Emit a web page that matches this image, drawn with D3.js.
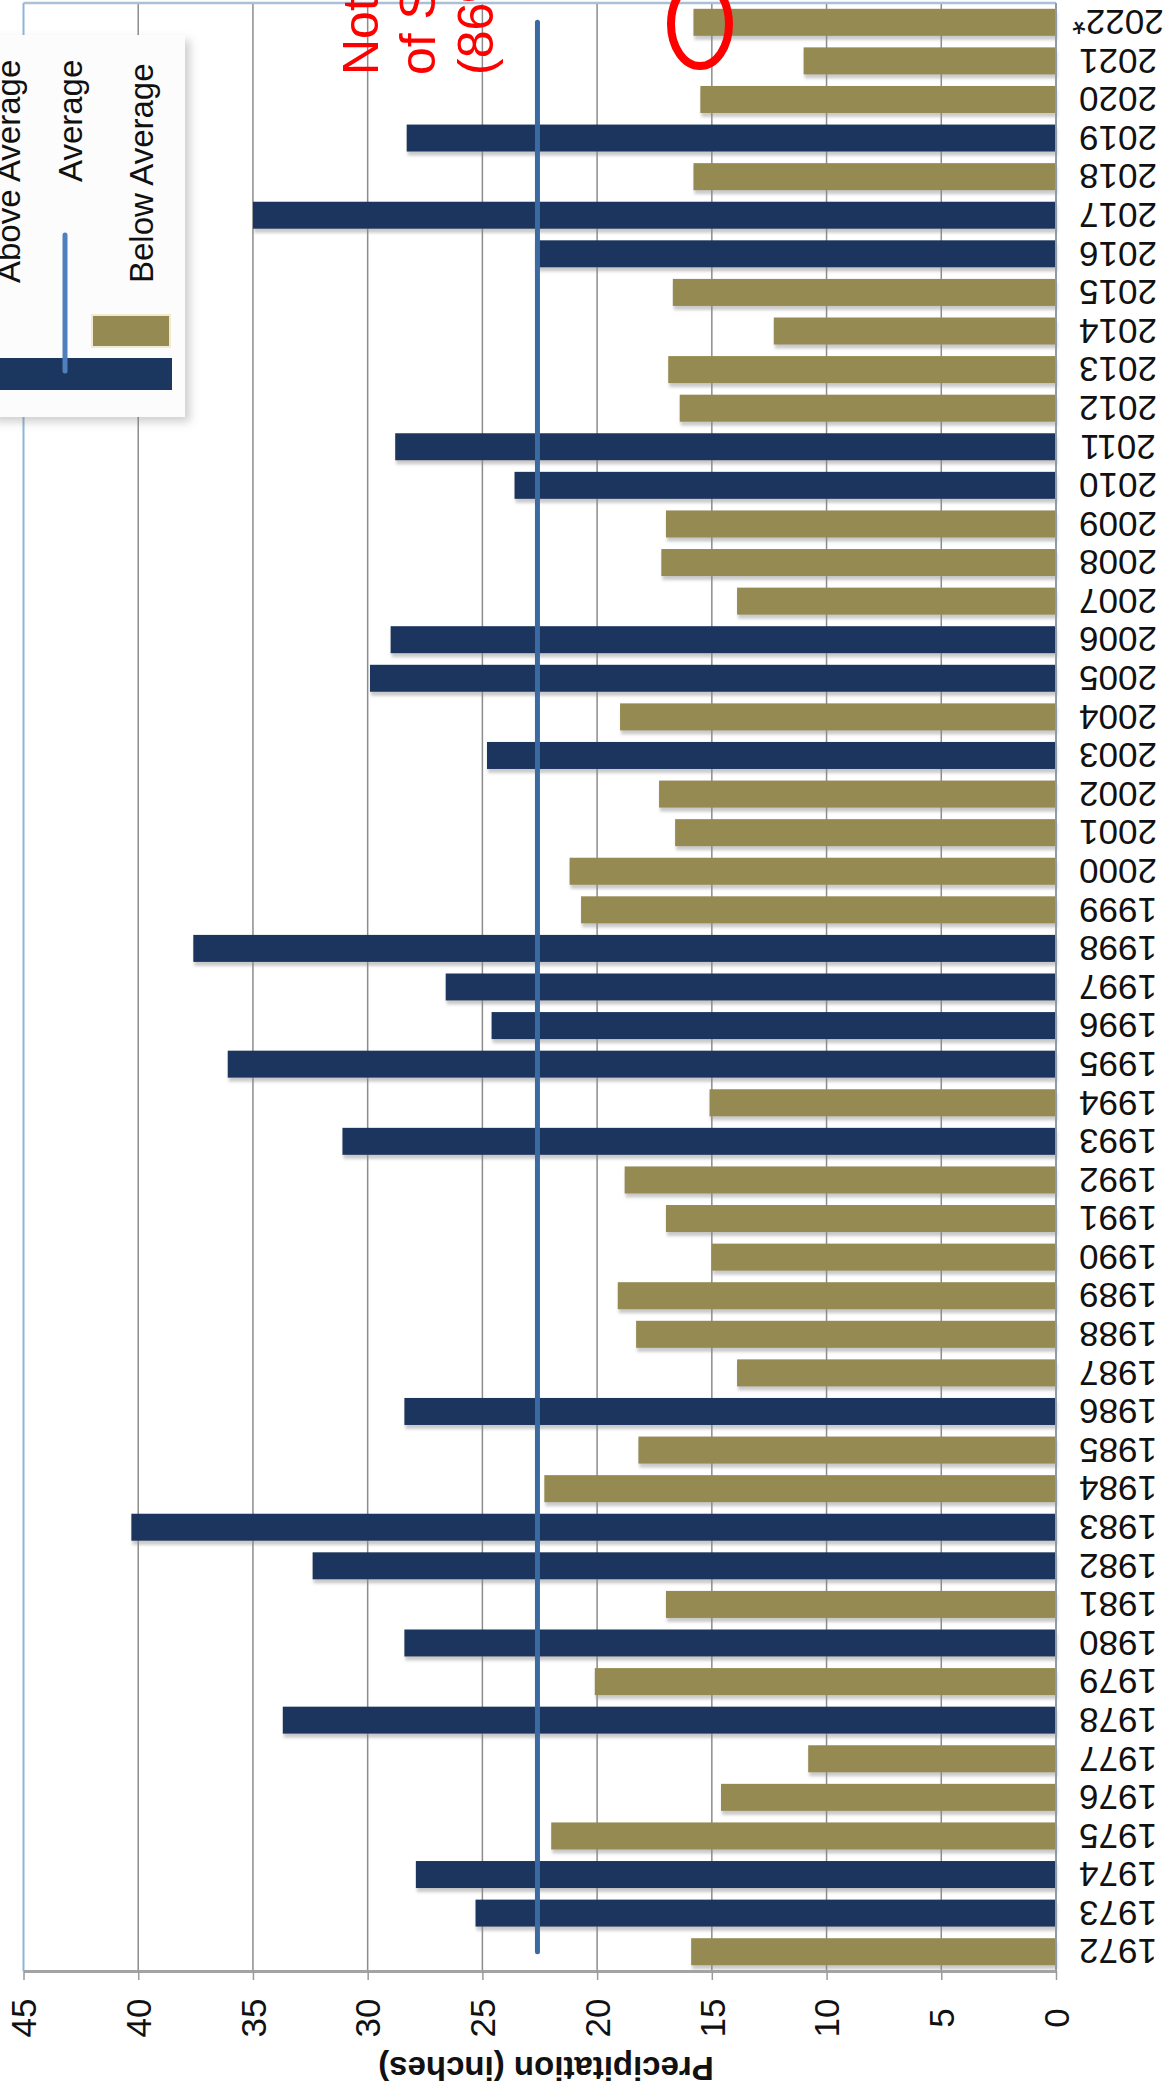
<!DOCTYPE html>
<html><head><meta charset="utf-8">
<script src="https://cdn.jsdelivr.net/npm/d3@7"></script>
<style>
html,body{margin:0;padding:0;background:#fff;}
svg{display:block;font-family:"Liberation Sans",Arial,sans-serif;}
</style>
</head><body>
<svg id="chart" width="1168" height="2088"></svg>
<script>
// ---- data ----
const years = ["1972","1973","1974","1975","1976","1977","1978","1979","1980","1981",
  "1982","1983","1984","1985","1986","1987","1988","1989","1990","1991",
  "1992","1993","1994","1995","1996","1997","1998","1999","2000","2001",
  "2002","2003","2004","2005","2006","2007","2008","2009","2010","2011",
  "2012","2013","2014","2015","2016","2017","2018","2019","2020","2021","2022*"];
const precipitation = [15.9,25.3,27.9,22.0,14.6,10.8,33.7,20.1,28.4,17.0,
  32.4,40.3,22.3,18.2,28.4,13.9,18.3,19.1,15.0,17.0,
  18.8,31.1,15.1,36.1,24.6,26.6,37.6,20.7,21.2,16.6,
  17.3,24.8,19.0,29.9,29.0,13.9,17.2,17.0,23.6,28.8,
  16.4,16.9,12.3,16.7,22.7,35.0,15.8,28.3,15.5,11.0,15.8];
const averagePrecip = 22.6;
const tickValues = [0,5,10,15,20,25,30,35,40,45];
const legendLabels = ["Above Average","Average","Below Average"];
const axisTitle = "Precipitation (inches)";
const noteLines = ["Note:","of Sept.","(86%"];

const COL_ABOVE = "#1b365f", COL_BELOW = "#958a51", COL_AVG = "#3b69a2";

const data = years.map((y,i)=>({year:y, value:precipitation[i]}));

const svg = d3.select("#chart");
const defs = svg.append("defs");
const f1 = defs.append("filter").attr("id","barShadow")
  .attr("x","-5%").attr("y","-40%").attr("width","112%").attr("height","200%");
f1.append("feDropShadow").attr("dx",1).attr("dy",4).attr("stdDeviation",1.5)
  .attr("flood-color","#8a8a8a").attr("flood-opacity",0.45);
const f2 = defs.append("filter").attr("id","legShadow")
  .attr("x","-20%").attr("y","-10%").attr("width","150%").attr("height","130%");
f2.append("feDropShadow").attr("dx",5).attr("dy",5).attr("stdDeviation",5)
  .attr("flood-color","#777").attr("flood-opacity",0.35);

// ---- scales ----
const x = d3.scaleLinear().domain([0,45]).range([1056,23.5]);
const y = d3.scaleBand().domain(years.slice().reverse()).range([3,1971])
  .paddingInner(0.3).paddingOuter(0.15);

// ---- grid ----
svg.append("g").selectAll("line").data(tickValues.filter(t=>t>0 && t<45)).join("line")
  .attr("x1",d=>x(d)).attr("x2",d=>x(d)).attr("y1",3).attr("y2",1971)
  .attr("stroke","#8c8c8c").attr("stroke-width",1.5);
svg.append("line").attr("x1",x(45)).attr("x2",x(45)).attr("y1",3).attr("y2",1971)
  .attr("stroke","#8fb4dc").attr("stroke-width",2);
svg.append("line").attr("x1",x(45)).attr("x2",x(0)).attr("y1",3).attr("y2",3)
  .attr("stroke","#a9c0d6").attr("stroke-width",2.5);

// ---- bars ----
svg.append("g").selectAll("rect").data(data).join("rect")
  .attr("x",d=>x(d.value)).attr("width",d=>x(0)-x(d.value))
  .attr("y",d=>y(d.year)).attr("height",y.bandwidth())
  .attr("fill",d=>d.value>averagePrecip?COL_ABOVE:COL_BELOW)
  .attr("filter","url(#barShadow)");

// value axis line at 0
svg.append("line").attr("x1",x(0)).attr("x2",x(0)).attr("y1",3).attr("y2",1971)
  .attr("stroke","#8e9aa8").attr("stroke-width",2);

// ---- bottom axis ----
const xAxis = svg.append("g").attr("transform","translate(0,1971)")
  .call(d3.axisBottom(x).tickValues(tickValues).tickSizeInner(9).tickSizeOuter(0).tickFormat(d3.format("d")));
xAxis.select(".domain").attr("stroke","#a3a3a3").attr("stroke-width",3);
xAxis.selectAll(".tick line").attr("stroke","#9a9a9a").attr("stroke-width",1.5);
xAxis.selectAll(".tick text")
  .attr("x",0).attr("y",0).attr("dy","0.35em")
  .attr("transform","translate(0,47) rotate(-90)")
  .attr("text-anchor","middle")
  .attr("font-size",35).attr("font-family","'Liberation Sans',Arial,sans-serif")
  .attr("fill","#111");

// ---- year axis ----
const yAxis = svg.append("g").attr("transform",`translate(${x(0)},0)`)
  .call(d3.axisRight(y).tickSize(0));
yAxis.select(".domain").remove();
yAxis.selectAll(".tick text")
  .attr("x",0).attr("y",0).attr("dy","0.35em")
  .attr("transform","translate(62,0) rotate(180)")
  .attr("text-anchor","middle")
  .attr("font-size",35).attr("font-family","'Liberation Sans',Arial,sans-serif")
  .attr("fill","#111");

// ---- average line ----
svg.append("line")
  .attr("x1",x(averagePrecip)).attr("x2",x(averagePrecip))
  .attr("y1",y(years[years.length-1])+y.bandwidth()/2)
  .attr("y2",y(years[0])+y.bandwidth()/2)
  .attr("stroke",COL_AVG).attr("stroke-width",5).attr("stroke-linecap","round");

// ---- axis title ----
svg.append("text").attr("transform","translate(546,2057) rotate(180)")
  .attr("text-anchor","middle").attr("font-weight","bold").attr("font-size",33)
  .attr("fill","#111").text(axisTitle);

// ---- legend ----
const lg = svg.append("g");
lg.append("rect").attr("x",-12).attr("y",35).attr("width",197).attr("height",382)
  .attr("fill","#fcfcfc").attr("filter","url(#legShadow)");
lg.append("rect").attr("x",-12).attr("y",358).attr("width",184).attr("height",32).attr("fill",COL_ABOVE);
lg.append("rect").attr("x",92).attr("y",315).attr("width",78).attr("height",32)
  .attr("fill",COL_BELOW).attr("stroke","#f1ead0").attr("stroke-width",2);
lg.append("line").attr("x1",65).attr("x2",65).attr("y1",235).attr("y2",371)
  .attr("stroke","#4f80bd").attr("stroke-width",5).attr("stroke-linecap","round");
const legPos = [[20,283],[82,182],[153,283]];
lg.selectAll("text.leg").data(legendLabels).join("text").attr("class","leg")
  .attr("transform",(d,i)=>`translate(${legPos[i][0]},${legPos[i][1]}) rotate(-90)`)
  .attr("font-size",33).attr("fill","#111").text(d=>d);

// ---- annotation ----
const noteX = [378,435,493];
svg.append("g").selectAll("text").data(noteLines).join("text")
  .attr("transform",(d,i)=>`translate(${noteX[i]},75) rotate(-90)`)
  .attr("font-size",50).attr("fill","#ff0000").text(d=>d);
svg.append("ellipse").attr("cx",700).attr("cy",24).attr("rx",29).attr("ry",42)
  .attr("fill","none").attr("stroke","#ff0000").attr("stroke-width",8);
</script>
</body></html>
